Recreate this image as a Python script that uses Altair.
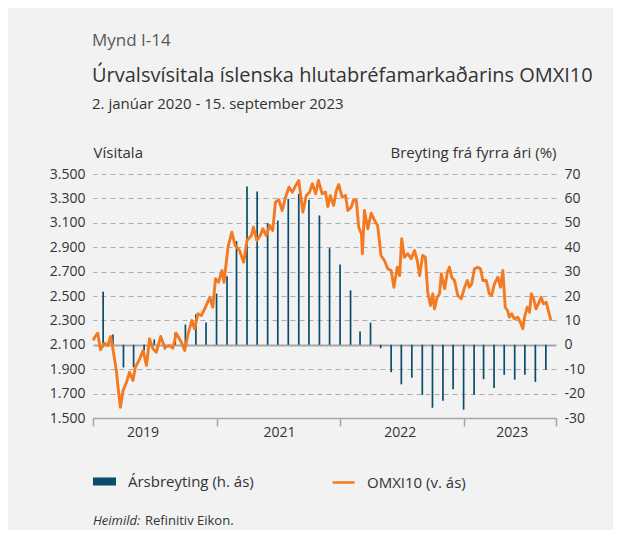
import altair as alt
import pandas as pd

# ---------------- data ----------------
line_dates = [
    "2020-01-02", "2020-01-06", "2020-01-15", "2020-01-23", "2020-02-04", "2020-02-14", "2020-02-22", "2020-02-28",
    "2020-03-10", "2020-03-15", "2020-03-22", "2020-03-30", "2020-04-09", "2020-04-18", "2020-04-28", "2020-05-05",
    "2020-05-18", "2020-05-28", "2020-06-07", "2020-06-16", "2020-06-26", "2020-07-06", "2020-07-19", "2020-07-31",
    "2020-08-14", "2020-08-24", "2020-09-03", "2020-09-18", "2020-09-28", "2020-10-08", "2020-10-19", "2020-10-27",
    "2020-11-06", "2020-11-16", "2020-11-26", "2020-12-11", "2020-12-20", "2020-12-28", "2021-01-06", "2021-01-16",
    "2021-01-22", "2021-02-03", "2021-02-14", "2021-02-24", "2021-03-09", "2021-03-21", "2021-03-31", "2021-04-13",
    "2021-04-19", "2021-04-29", "2021-05-09", "2021-05-17", "2021-05-27", "2021-06-06", "2021-06-15", "2021-06-23",
    "2021-07-03", "2021-07-13", "2021-07-23", "2021-08-02", "2021-08-12", "2021-08-22", "2021-08-31", "2021-09-12",
    "2021-09-22", "2021-10-02", "2021-10-10", "2021-10-20", "2021-10-28", "2021-11-08", "2021-11-18", "2021-11-25",
    "2021-12-02", "2021-12-12", "2021-12-20", "2021-12-27", "2022-01-06", "2022-01-16", "2022-01-23", "2022-02-02",
    "2022-02-09", "2022-02-17", "2022-02-24", "2022-03-04", "2022-03-07", "2022-03-13", "2022-03-23", "2022-04-02",
    "2022-04-12", "2022-04-21", "2022-05-01", "2022-05-11", "2022-05-21", "2022-05-31", "2022-06-08", "2022-06-18",
    "2022-06-25", "2022-07-01", "2022-07-09", "2022-07-19", "2022-07-29", "2022-08-08", "2022-08-16", "2022-08-23",
    "2022-09-01", "2022-09-09", "2022-09-16", "2022-09-24", "2022-10-01", "2022-10-06", "2022-10-14", "2022-10-21",
    "2022-10-26", "2022-11-05", "2022-11-13", "2022-11-19", "2022-11-26", "2022-12-04", "2022-12-14", "2022-12-24",
    "2023-01-03", "2023-01-11", "2023-01-17", "2023-01-24", "2023-02-01", "2023-02-11", "2023-02-19", "2023-02-26",
    "2023-03-08", "2023-03-17", "2023-03-24", "2023-04-01", "2023-04-11", "2023-04-19", "2023-04-26", "2023-05-03",
    "2023-05-10", "2023-05-15", "2023-05-22", "2023-05-30", "2023-06-09", "2023-06-17", "2023-06-24", "2023-06-29",
    "2023-07-07", "2023-07-14", "2023-07-19", "2023-07-26", "2023-08-02", "2023-08-09", "2023-08-17", "2023-08-24",
    "2023-09-01", "2023-09-06", "2023-09-15",
]
line_values = [
    2135, 2162, 2195, 2059, 2113, 2094, 2168, 2080,
    1889, 1752, 1588, 1725, 1793, 1875, 1807, 1916,
    1985, 2053, 1930, 2149, 2067, 2039, 2168, 2080,
    2094, 2072, 2195, 2121, 2053, 2190, 2299, 2231,
    2354, 2340, 2395, 2490, 2408, 2641, 2613, 2709,
    2613, 2900, 3023, 2914, 2873, 2777, 2955, 2996,
    3064, 2955, 2996, 3051, 2996, 3078, 3037, 3269,
    3289, 3201, 3310, 3392, 3351, 3406, 3447, 3187,
    3324, 3351, 3420, 3338, 3447, 3338, 3351, 3234,
    3324, 3242, 3365, 3414, 3310, 3324, 3201, 3228,
    3289, 3283, 3064, 3010, 2846, 3201, 3051, 3179,
    3119, 3078, 2832, 2791, 2723, 2709, 2572, 2736,
    2668, 2969, 2818, 2846, 2805, 2873, 2791, 2668,
    2832, 2818, 2531, 2422, 2518, 2395, 2490, 2518,
    2682, 2559, 2695, 2736, 2654, 2627, 2504, 2477,
    2572, 2627, 2572, 2600, 2723, 2736, 2723, 2627,
    2627, 2518, 2504, 2600, 2654, 2572, 2709, 2408,
    2381, 2326, 2354, 2313, 2326, 2285, 2231, 2326,
    2408, 2367, 2518, 2477, 2395, 2436, 2490, 2436,
    2449, 2395, 2299,
]

bar_dates = [
    "2020-01-31", "2020-02-29", "2020-03-31", "2020-04-30", "2020-05-31", "2020-06-30",
    "2020-07-31", "2020-08-31", "2020-09-30", "2020-10-31", "2020-11-30", "2020-12-31",
    "2021-01-31", "2021-02-28", "2021-03-31", "2021-04-30", "2021-05-31", "2021-06-30",
    "2021-07-31", "2021-08-31", "2021-09-30", "2021-10-31", "2021-11-30", "2021-12-31",
    "2022-01-31", "2022-02-28", "2022-03-31", "2022-04-30", "2022-05-31", "2022-06-30",
    "2022-07-31", "2022-08-31", "2022-09-30", "2022-10-31", "2022-11-30", "2022-12-31",
    "2023-01-31", "2023-02-28", "2023-03-31", "2023-04-30", "2023-05-31", "2023-06-30",
    "2023-07-31", "2023-08-31",
]
bar_values = [
    21.8, 4.2, -9.3, -9.2, -2.3, 2.2, -1.9, 5.0, 8.3, 12.4, 9.1, 21.0,
    28.1, 42.5, 64.9, 62.8, 49.8, 50.9, 59.8, 61.9, 59.4, 53.0, 39.6, 32.9,
    22.3, 5.5, 9.1, -1.4, -11.2, -16.2, -13.5, -20.5, -25.8, -22.9, -18.2, -26.6,
    -20.5, -14.1, -17.7, -12.3, -14.3, -12.3, -15.2, -10.2,
]

year_labels = ["2019", "2021", "2022", "2023"]
year_label_dates = ["2020-05-28", "2021-07-05", "2022-06-27", "2023-05-24"]

left_ticks = [1500, 1700, 1900, 2100, 2300, 2500, 2700, 2900, 3100, 3300, 3500]
right_ticks = [-30, -20, -10, 0, 10, 20, 30, 40, 50, 60, 70]

line_name = "OMXI10 (v. ás)"
bar_name = "Ársbreyting (h. ás)"

# ---------------- styling ----------------
FONT = "Open Sans"
TEXT = "#333333"
ORANGE = "#f47a22"
TEAL = "#0b4c6a"
GRID = "#ababab"
BG = "#f2f2f2"

W, H = 463, 244

line_df = pd.DataFrame({"date": line_dates, "v": line_values, "s": line_name})
bar_df = pd.DataFrame({"date": bar_dates, "v": bar_values, "s": bar_name})
ylab_df = pd.DataFrame({"date": year_label_dates, "t": year_labels})


def dt(y, m, d):
    return alt.DateTime(year=y, month=m, date=d, utc=True)


x_scale = alt.Scale(domain=[dt(2020, 1, 1), dt(2023, 9, 30)], padding=0)
x_axis = alt.Axis(
    values=[dt(2020, 1, 1), dt(2021, 1, 1), dt(2022, 1, 1), dt(2023, 1, 1), dt(2023, 9, 30)],
    labels=False, title=None, grid=False, ticks=True, tickSize=8, tickWidth=1.5,
    tickColor="#a6a6a6", domainColor="#a6a6a6", domainWidth=1.5,
)

bars = alt.Chart(bar_df).mark_bar(size=1.7).encode(
    x=alt.X("date:T", scale=x_scale, axis=x_axis),
    y=alt.Y(
        "v:Q",
        scale=alt.Scale(domain=[-30, 70], nice=False),
        axis=alt.Axis(
            orient="right", values=right_ticks, labelExpr="toString(datum.value)",
            grid=True,
            gridDash={"condition": {"test": "datum.value === 0", "value": []}, "value": [5, 4]},
            gridColor={"condition": {"test": "datum.value === 0", "value": "#a6a6a6"}, "value": GRID},
            gridWidth={"condition": {"test": "datum.value === 0", "value": 2}, "value": 1},
            domain=False, ticks=False, labelPadding=8, labelFontSize=14, labelColor=TEXT,
            labelFont=FONT,
            title="Breyting frá fyrra ári (%)", titleAngle=0, titleX=0, titleY=-17,
            titleAlign="right", titleBaseline="alphabetic", titleFontWeight="normal",
            titleFontSize=15, titleColor=TEXT, titleFont=FONT,
        ),
    ),
    fill=alt.Fill(
        "s:N", scale=alt.Scale(domain=[bar_name], range=[TEAL]),
        legend=alt.Legend(
            orient="none", legendX=0, legendY=296, title=None,
            symbolType="M-1,-0.35H1V0.35H-1Z", symbolSize=529, symbolStrokeWidth=0,
            labelFontSize=15, labelColor=TEXT, labelFont=FONT, labelOffset=12,
        ),
    ),
)

line = alt.Chart(line_df).mark_line(strokeWidth=2.9, strokeJoin="round").encode(
    x=alt.X("date:T", scale=x_scale, axis=x_axis),
    y=alt.Y(
        "v:Q",
        scale=alt.Scale(domain=[1500, 3500], nice=False, zero=False),
        axis=alt.Axis(
            orient="left", values=left_ticks,
            labelExpr="replace(format(datum.value, ','), ',', '.')",
            grid=False, domain=False, ticks=False, labelPadding=8, labelFontSize=14,
            labelColor=TEXT, labelFont=FONT,
            title="Vísitala", titleAngle=0, titleX=0, titleY=-17, titleAlign="left",
            titleBaseline="alphabetic", titleFontWeight="normal", titleFontSize=15,
            titleColor=TEXT, titleFont=FONT,
        ),
    ),
    stroke=alt.Stroke(
        "s:N", scale=alt.Scale(domain=[line_name], range=[ORANGE]),
        legend=alt.Legend(
            orient="none", legendX=238, legendY=296, title=None,
            symbolType="stroke", symbolSize=484, symbolStrokeWidth=2.5,
            labelFontSize=15, labelColor=TEXT, labelFont=FONT, labelOffset=11,
        ),
    ),
)

year_text = alt.Chart(ylab_df).mark_text(
    fontSize=14, font=FONT, color=TEXT, baseline="middle", align="center"
).encode(x=alt.X("date:T", scale=x_scale), y=alt.value(259), text="t:N")


def label(txt, x, y, size, color=TEXT, style="normal"):
    return alt.Chart(pd.DataFrame({"t": [txt]})).mark_text(
        align="left", baseline="alphabetic", fontSize=size, font=FONT,
        color=color, fontStyle=style,
    ).encode(x=alt.value(x), y=alt.value(y), text="t:N")


header = [
    label("Mynd I-14", -1, -128, 17, "#595959"),
    label("Úrvalsvísitala íslenska hlutabréfamarkaðarins OMXI10", -1, -92, 20, "#333333"),
    label("2. janúar 2020 - 15. september 2023", -1, -65, 15, "#333333"),
    label("Heimild:", 0, 351, 13, "#333333", "italic"),
    label("Refinitiv Eikon.", 52, 351, 13, "#333333"),
]

chart = alt.layer(bars, line, year_text, *header).resolve_scale(
    y="independent", fill="independent", stroke="independent"
).properties(
    width=W, height=H,
    autosize=alt.AutoSizeParams(type="none"),
    padding={"left": 85, "top": 166, "right": 57, "bottom": 112},
    background=BG,
).configure_view(stroke=None)

chart.save("out.html", embed_options={"renderer": "svg", "actions": False})
